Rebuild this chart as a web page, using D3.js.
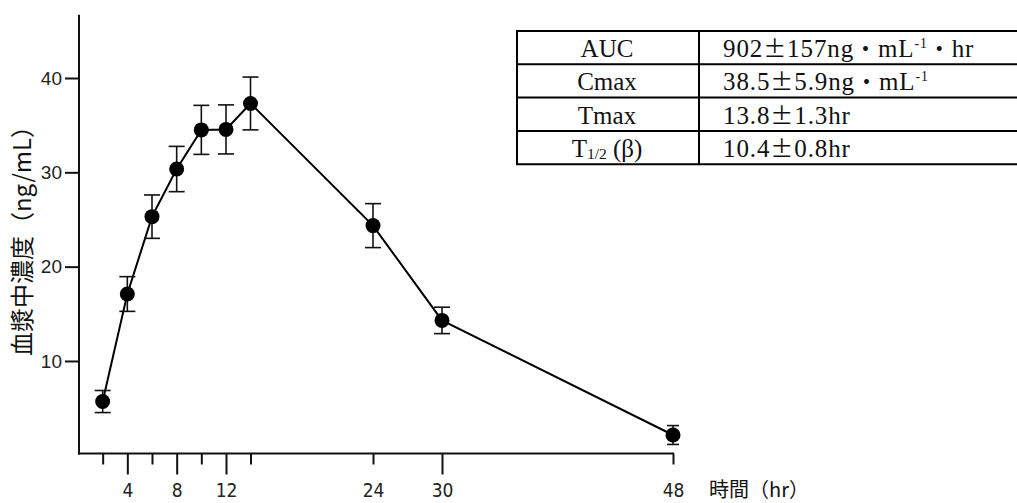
<!DOCTYPE html>
<html><head><meta charset="utf-8">
<script src="https://cdn.jsdelivr.net/npm/d3@7"></script>
<style>
html,body{margin:0;padding:0;background:#fff;}
svg{display:block;}
</style></head>
<body>
<svg id="chart" width="1017" height="503"></svg>
<script>
// ---- data ----
const times = [2, 4, 6, 8, 10, 12, 14, 24, 30, 48];
const means = [5.7, 17.1, 25.3, 30.35, 34.5, 34.55, 37.3, 24.35, 14.3, 2.15];
const sds   = [1.17, 1.84, 2.3, 2.4, 2.6, 2.6, 2.8, 2.33, 1.4, 1.0];
const xTickValues = [2, 4, 6, 8, 10, 12, 14, 24, 30, 48];
const xTickLabels = ["", "4", "", "8", "", "12", "", "24", "30", "48"];
const yTickValues = [10, 20, 30, 40];
const yAxisLabel = "血漿中濃度（ng/mL）";
const xAxisLabel = "時間（hr）";
const tableParams = ["AUC", "Cmax", "Tmax", "T_{1/2} (β)"];
const tableValues = ["902{±}157ng{・}mL^{-1}{・}hr", "38.5{±}5.9ng{・}mL^{-1}", "13.8{±}1.3hr", "10.4{±}0.8hr"];

// ---- layout ----
const svg = d3.select("#chart");
const x = d3.scaleLinear().domain([0, 12, 24, 30, 48]).range([78, 226, 373, 442, 673]);
const y = d3.scaleLinear().domain([0, 40]).range([455.3, 78]);
const axisX0 = 79, axisY0 = 453.5, yAxisTopVal = 46.7;

// axes lines
svg.append("line").attr("x1", axisX0).attr("x2", axisX0)
  .attr("y1", y(yAxisTopVal)).attr("y2", axisY0 + 1)
  .attr("stroke", "#111").attr("stroke-width", 2);
svg.append("line").attr("x1", axisX0 - 1).attr("x2", x(48) + 1)
  .attr("y1", axisY0).attr("y2", axisY0)
  .attr("stroke", "#111").attr("stroke-width", 2);

// y axis
const gy = svg.append("g").attr("transform", `translate(${axisX0},0)`)
  .call(d3.axisLeft(y).tickValues(yTickValues).tickSize(14).tickPadding(3));
gy.select(".domain").remove();
gy.selectAll(".tick line").attr("stroke", "#111").attr("stroke-width", 2);
gy.selectAll(".tick text").attr("fill", "#222")
  .style("font-family", "'Liberation Sans', Arial, sans-serif").style("font-size", "19px");

// x axis
const longTicks = new Set([4, 8, 12, 30]);
const gx = svg.append("g").attr("transform", `translate(0,${axisY0})`)
  .call(d3.axisBottom(x).tickValues(xTickValues).tickFormat((d, i) => xTickLabels[i]).tickSize(11).tickPadding(0));
gx.select(".domain").remove();
gx.selectAll(".tick line").attr("stroke", "#111").attr("stroke-width", 2)
  .attr("y2", d => longTicks.has(d) ? 21 : 11);
gx.selectAll(".tick text").attr("fill", "#222").attr("dy", null).attr("y", 43)
  .style("font-family", "'Liberation Sans Narrow', 'DejaVu Sans Condensed', 'Liberation Sans', sans-serif")
  .style("font-size", "19px");

// axis titles
svg.append("text").attr("transform", "translate(31,235) rotate(-90)")
  .attr("text-anchor", "middle")
  .style("font-family", "'Noto Sans CJK JP', sans-serif").style("font-size", "24px")
  .attr("fill", "#111").text(yAxisLabel);
svg.append("text").attr("x", 709).attr("y", 497)
  .style("font-family", "'Noto Sans CJK JP', sans-serif").style("font-size", "20px")
  .attr("fill", "#111").text(xAxisLabel);

// data line
const pts = times.map((t, i) => ({t, m: means[i], s: sds[i]}));
svg.append("path").datum(pts)
  .attr("d", d3.line().x(d => x(d.t)).y(d => y(d.m)))
  .attr("fill", "none").attr("stroke", "#000").attr("stroke-width", 2);

// error bars
const eb = svg.append("g").attr("stroke", "#111").attr("stroke-width", 1.6);
pts.forEach(d => {
  const cx = x(d.t), y1 = y(d.m + d.s), y2 = y(d.m - d.s), hw = d.t === 48 ? 6 : 8;
  eb.append("line").attr("x1", cx).attr("x2", cx).attr("y1", y1).attr("y2", y2);
  eb.append("line").attr("x1", cx - hw).attr("x2", cx + hw).attr("y1", y1).attr("y2", y1);
  eb.append("line").attr("x1", cx - hw).attr("x2", cx + hw).attr("y1", y2).attr("y2", y2);
});

// points
svg.append("g").selectAll("circle").data(pts).join("circle")
  .attr("cx", d => x(d.t)).attr("cy", d => y(d.m)).attr("r", 7.5).attr("fill", "#000");

// ---- table ----
const tX0 = 517, tX1 = 699, tX2 = 1030, tY0 = 31, rowH = 33.3;
const fs = 25;
const tg = svg.append("g");
function richText(sel, str, baseSize) {
  const re = /(\^\{[^}]*\}|_\{[^}]*\}|\{[^}]*\})/g;
  const parts = str.split(re).filter(p => p.length);
  let shift = 0;
  parts.forEach(p => {
    if (p.startsWith("^{")) {
      sel.append("tspan").attr("dy", -9 - shift).style("font-size", (baseSize * 0.55) + "px").text(p.slice(2, -1));
      shift = -9;
    } else if (p.startsWith("_{")) {
      sel.append("tspan").attr("dy", 2 - shift).style("font-size", (baseSize * 0.62) + "px").text(p.slice(2, -1));
      shift = 2;
    } else if (p.startsWith("{")) {
      sel.append("tspan").attr("dy", -shift).style("font-family", "'Noto Sans CJK JP', sans-serif")
        .style("font-size", (baseSize * 0.92) + "px").text(p.slice(1, -1));
      shift = 0;
    } else {
      sel.append("tspan").attr("dy", -shift).text(p);
      shift = 0;
    }
  });
}
const nRows = tableParams.length;
for (let i = 0; i <= nRows; i++) {
  tg.append("line").attr("x1", tX0 - 1).attr("x2", tX2).attr("y1", tY0 + i * rowH).attr("y2", tY0 + i * rowH)
    .attr("stroke", "#000").attr("stroke-width", 2);
}
[tX0, tX1].forEach(xx => tg.append("line").attr("x1", xx).attr("x2", xx)
  .attr("y1", tY0).attr("y2", tY0 + nRows * rowH).attr("stroke", "#000").attr("stroke-width", 2));
const tableFont = "'Liberation Serif', 'Times New Roman', serif";
tableParams.forEach((p, i) => {
  const t = tg.append("text").attr("x", (tX0 + tX1) / 2 - 1).attr("y", tY0 + i * rowH + 26)
    .attr("text-anchor", "middle").style("font-family", tableFont).style("font-size", fs + "px").attr("fill", "#111");
  richText(t, p, fs);
});
tableValues.forEach((v, i) => {
  const t = tg.append("text").attr("x", 723).attr("y", tY0 + i * rowH + 26)
    .style("font-family", tableFont).style("font-size", fs + "px").style("letter-spacing", "0.9px").attr("fill", "#111");
  richText(t, v, fs);
});
</script>
</body></html>
